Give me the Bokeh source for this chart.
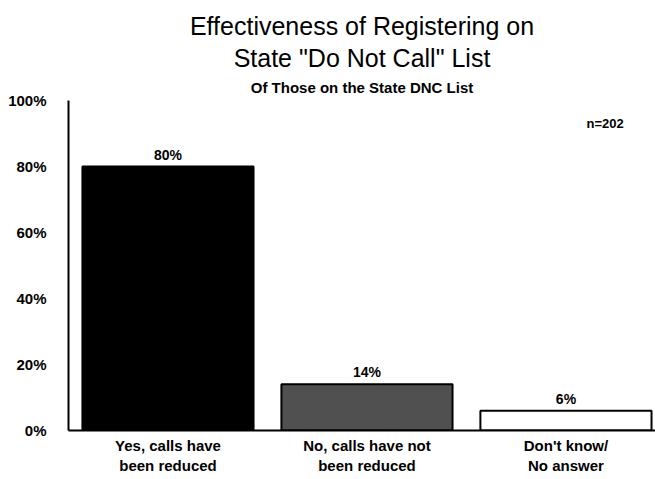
from bokeh.plotting import figure
from bokeh.models import Range1d, Title, Label, ColumnDataSource, FixedTicker
from bokeh.core.properties import value
from bokeh.embed import file_html
from bokeh.resources import INLINE

categories = ["Yes, calls have\nbeen reduced", "No, calls have not\nbeen reduced", "Don't know/\nNo answer"]
values = [80, 14, 6]
value_labels = ["80%", "14%", "6%"]
fills = ["#000000", "#505050", "#ffffff"]
y_ticks = [0, 20, 40, 60, 80, 100]
y_tick_labels = ["0%", "20%", "40%", "60%", "80%", "100%"]
title_1 = "Effectiveness of Registering on"
title_2 = 'State "Do Not Call" List'
subtitle = "Of Those on the State DNC List"
note = "n=202"

FONT = "Liberation Sans"
xs = list(range(len(categories)))
src = ColumnDataSource(dict(x=xs, top=values, lab=value_labels, fill=fills))

p = figure(width=655, height=479, x_range=Range1d(-0.5, 2.45), y_range=Range1d(0, 100),
           output_backend="svg", toolbar_location=None,
           min_border_left=68, min_border_right=0, min_border_bottom=49, min_border_top=100)
p.title.visible = False
p.background_fill_color = "white"
p.border_fill_color = "white"
p.outline_line_color = None
p.xgrid.visible = False
p.ygrid.visible = False

p.vbar(x="x", top="top", width=0.86, bottom=0, source=src, fill_color="fill",
       line_color="black", line_width=2)

p.text(x="x", y="top", text="lab", source=src, text_align="center", text_baseline="bottom",
       y_offset=-4, text_font=value(FONT), text_font_style="bold", text_font_size="14px",
       text_color="black")

p.yaxis.ticker = FixedTicker(ticks=y_ticks)
p.yaxis.major_label_overrides = {t: l for t, l in zip(y_ticks, y_tick_labels)}
p.yaxis.major_tick_line_color = None
p.yaxis.minor_tick_line_color = None
p.yaxis.axis_line_width = 2
p.yaxis.axis_line_color = "black"
p.yaxis.major_label_standoff = 16
p.yaxis.major_label_text_font = FONT
p.yaxis.major_label_text_font_style = "bold"
p.yaxis.major_label_text_font_size = "15px"
p.yaxis.major_label_text_color = "black"

p.xaxis.ticker = FixedTicker(ticks=xs)
p.xaxis.major_label_overrides = {x: c for x, c in zip(xs, categories)}
p.xaxis.major_tick_line_color = None
p.xaxis.minor_tick_line_color = None
p.xaxis.axis_line_width = 2
p.xaxis.axis_line_color = "black"
p.xaxis.major_label_standoff = 0
p.xaxis.major_label_text_font = FONT
p.xaxis.major_label_text_font_style = "bold"
p.xaxis.major_label_text_font_size = "15px"
p.xaxis.major_label_text_color = "black"

p.add_layout(Title(text=subtitle, align="center", text_font=FONT, text_font_style="bold",
                   text_font_size="15px", text_color="black", standoff=9), "above")
p.add_layout(Title(text=title_2, align="center", text_font=FONT, text_font_style="normal",
                   text_font_size="25px", text_color="black", standoff=2), "above")
p.add_layout(Title(text=title_1, align="center", text_font=FONT, text_font_style="normal",
                   text_font_size="25px", text_color="black", standoff=2), "above")

p.add_layout(Label(x=2.29, y=93, text=note, text_align="right", text_baseline="middle",
                   text_font=FONT, text_font_style="bold", text_font_size="13px",
                   text_color="black"))

open("out.html", "w").write(file_html(p, INLINE))
